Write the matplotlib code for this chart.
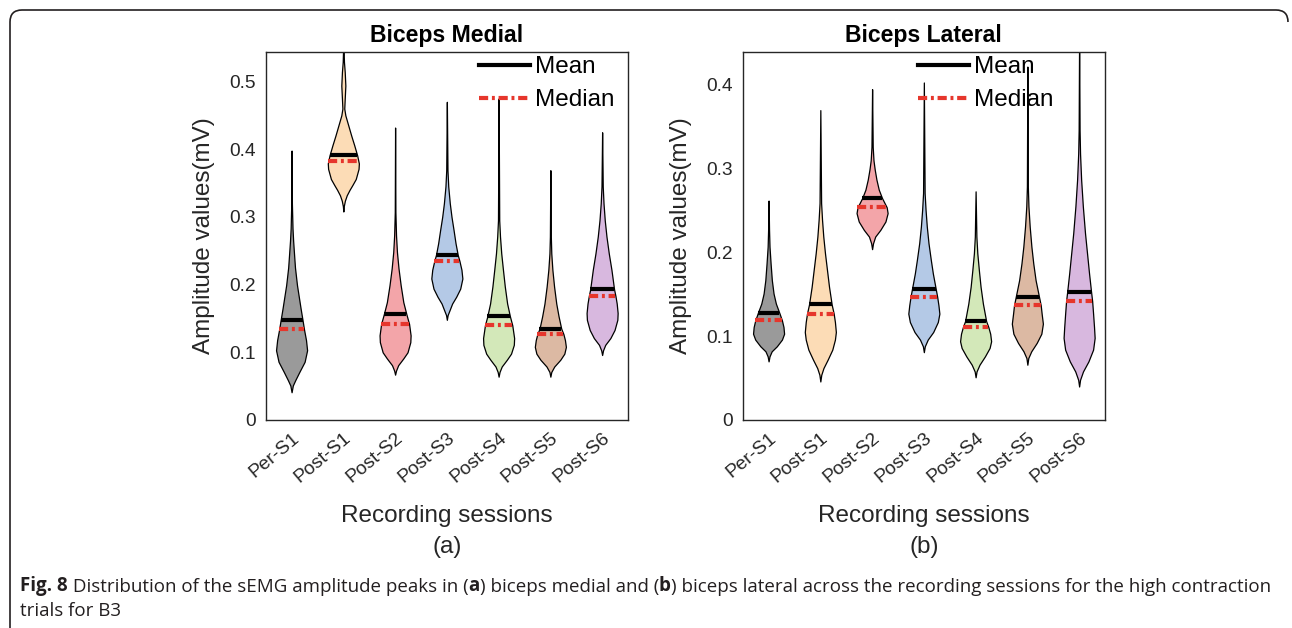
"""Violin plots of sEMG amplitude peaks, biceps medial / lateral."""

import matplotlib

matplotlib.use("Agg")
import matplotlib.pyplot as plt
import numpy as np
from matplotlib.lines import Line2D
from matplotlib.patches import PathPatch
from matplotlib.path import Path
from matplotlib.text import Annotation

sessions = ["Per-S1", "Post-S1", "Post-S2", "Post-S3", "Post-S4", "Post-S5", "Post-S6"]
violin_colors = ["#9a9a9a", "#fcdcb6", "#f3a5a9", "#b4c9e6", "#d3e8b9", "#dcb9a3", "#d8b8df"]

# biceps medial: violin outlines (amplitude, relative half width), mean, median
medial_y = [
    [0.041, 0.051, 0.059, 0.071, 0.086, 0.103, 0.118, 0.134, 0.147, 0.165, 0.199, 0.225, 0.248, 0.265, 0.283, 0.320, 0.398],
    [0.308, 0.316, 0.324, 0.332, 0.340, 0.347, 0.356, 0.371, 0.379, 0.391, 0.406, 0.420, 0.435, 0.450, 0.460, 0.475, 0.494, 0.514, 0.529, 0.560],
    [0.067, 0.073, 0.081, 0.091, 0.100, 0.115, 0.125, 0.142, 0.156, 0.174, 0.199, 0.224, 0.248, 0.273, 0.307, 0.432],
    [0.148, 0.155, 0.162, 0.172, 0.182, 0.194, 0.209, 0.222, 0.235, 0.244, 0.261, 0.281, 0.300, 0.320, 0.345, 0.369, 0.470],
    [0.064, 0.071, 0.079, 0.089, 0.098, 0.111, 0.121, 0.140, 0.153, 0.172, 0.197, 0.222, 0.246, 0.271, 0.295, 0.475],
    [0.064, 0.071, 0.079, 0.089, 0.098, 0.108, 0.118, 0.127, 0.135, 0.153, 0.172, 0.197, 0.222, 0.246, 0.271, 0.369],
    [0.096, 0.103, 0.111, 0.121, 0.133, 0.148, 0.158, 0.172, 0.183, 0.193, 0.222, 0.246, 0.271, 0.295, 0.320, 0.345, 0.425],
]
medial_w = [
    [0.0, 0.08, 0.24, 0.5, 0.84, 1.0, 0.93, 0.8, 0.71, 0.58, 0.35, 0.22, 0.15, 0.1, 0.06, 0.02, 0.0],
    [0.0, 0.03, 0.1, 0.22, 0.4, 0.58, 0.8, 0.98, 1.0, 0.89, 0.7, 0.51, 0.32, 0.13, 0.06, 0.09, 0.13, 0.09, 0.04, 0.0],
    [0.0, 0.06, 0.2, 0.53, 0.8, 0.98, 1.0, 0.9, 0.73, 0.53, 0.36, 0.22, 0.12, 0.06, 0.02, 0.0],
    [0.0, 0.05, 0.17, 0.34, 0.6, 0.86, 1.0, 0.94, 0.81, 0.7, 0.56, 0.43, 0.3, 0.19, 0.09, 0.04, 0.0],
    [0.0, 0.06, 0.2, 0.53, 0.8, 0.98, 1.0, 0.88, 0.73, 0.55, 0.4, 0.28, 0.17, 0.09, 0.04, 0.0],
    [0.0, 0.06, 0.25, 0.64, 0.9, 1.0, 0.94, 0.84, 0.7, 0.53, 0.38, 0.24, 0.13, 0.06, 0.03, 0.0],
    [0.0, 0.06, 0.2, 0.53, 0.8, 0.98, 1.0, 0.94, 0.86, 0.77, 0.6, 0.43, 0.28, 0.17, 0.09, 0.04, 0.0],
]
medial_mean = [0.147, 0.391, 0.156, 0.244, 0.153, 0.135, 0.193]
medial_median = [0.134, 0.383, 0.142, 0.235, 0.140, 0.127, 0.183]

# biceps lateral
lateral_y = [
    [0.070, 0.076, 0.082, 0.088, 0.096, 0.103, 0.111, 0.119, 0.128, 0.139, 0.151, 0.167, 0.187, 0.207, 0.227, 0.262],
    [0.046, 0.054, 0.062, 0.072, 0.084, 0.096, 0.105, 0.117, 0.127, 0.138, 0.159, 0.179, 0.199, 0.219, 0.239, 0.259, 0.370],
    [0.204, 0.211, 0.219, 0.227, 0.237, 0.247, 0.254, 0.265, 0.275, 0.287, 0.299, 0.310, 0.326, 0.395],
    [0.081, 0.088, 0.096, 0.105, 0.117, 0.127, 0.137, 0.147, 0.156, 0.175, 0.191, 0.211, 0.231, 0.251, 0.271, 0.403],
    [0.051, 0.058, 0.066, 0.076, 0.086, 0.094, 0.103, 0.111, 0.118, 0.139, 0.159, 0.179, 0.199, 0.219, 0.273],
    [0.066, 0.074, 0.082, 0.092, 0.103, 0.115, 0.127, 0.137, 0.147, 0.167, 0.187, 0.207, 0.231, 0.255, 0.279, 0.422],
    [0.040, 0.048, 0.058, 0.070, 0.084, 0.098, 0.111, 0.127, 0.142, 0.153, 0.175, 0.199, 0.223, 0.255, 0.287, 0.318, 0.346, 0.460],
]
lateral_w = [
    [0.0, 0.06, 0.2, 0.53, 0.86, 1.0, 0.96, 0.86, 0.69, 0.47, 0.32, 0.21, 0.13, 0.06, 0.03, 0.0],
    [0.0, 0.06, 0.2, 0.47, 0.77, 0.94, 1.0, 0.94, 0.86, 0.73, 0.56, 0.43, 0.3, 0.19, 0.11, 0.05, 0.0],
    [0.0, 0.06, 0.2, 0.53, 0.86, 1.0, 0.94, 0.64, 0.43, 0.28, 0.17, 0.09, 0.04, 0.0],
    [0.0, 0.06, 0.25, 0.6, 0.9, 1.0, 0.94, 0.86, 0.77, 0.58, 0.45, 0.3, 0.19, 0.11, 0.05, 0.0],
    [0.0, 0.06, 0.25, 0.6, 0.9, 1.0, 0.94, 0.82, 0.68, 0.47, 0.32, 0.21, 0.11, 0.05, 0.0],
    [0.0, 0.06, 0.25, 0.6, 0.9, 1.0, 0.92, 0.86, 0.75, 0.53, 0.38, 0.26, 0.15, 0.07, 0.03, 0.0],
    [0.0, 0.06, 0.25, 0.6, 0.9, 1.0, 0.96, 0.9, 0.84, 0.77, 0.64, 0.51, 0.38, 0.24, 0.13, 0.06, 0.03, 0.0],
]
lateral_mean = [0.128, 0.138, 0.265, 0.156, 0.118, 0.147, 0.153]
lateral_median = [0.119, 0.127, 0.254, 0.147, 0.111, 0.137, 0.142]

plt.rcParams["font.family"] = ["Liberation Sans", "DejaVu Sans"]
TXT = "#262626"
RED = "#e6362c"
MED_DASH = (2.2, 0.9, 0.7, 0.9)
W = 1292
H = 628


def draw_panel(ax, ys_list, ws_list, means, medians, title, yticks, ytop, leg_x):
    for i, (ys, ws) in enumerate(zip(ys_list, ws_list)):
        x = i + 1
        ys = np.array(ys)
        half = np.array(ws) * 0.3
        ax.fill_betweenx(ys, x - half, x + half, facecolor=violin_colors[i],
                         edgecolor="black", linewidth=0.9, zorder=2)
        hw = np.interp(means[i], ys, half)
        ax.plot([x - hw, x + hw], [means[i]] * 2, color="black", lw=3,
                solid_capstyle="butt", zorder=3)
        hw = np.interp(medians[i], ys, half)
        ax.plot([x - hw, x + hw], [medians[i]] * 2, color=RED, lw=3,
                dashes=MED_DASH, dash_capstyle="butt", zorder=3)

    ax.set_xlim(0.5, 7.5)
    ax.set_ylim(0, ytop)
    ax.set_xticks(range(1, 8))
    ax.set_xticklabels(sessions, rotation=40, ha="right", va="top",
                       rotation_mode="anchor", fontsize=13.8, color=TXT)
    ax.set_yticks(yticks)
    ax.set_yticklabels(["0"] + [f"{t:.1f}" for t in yticks[1:]], fontsize=13.8, color=TXT)
    ax.tick_params(length=0, pad=7)
    for s in ax.spines.values():
        s.set_color(TXT)
        s.set_linewidth(1.0)
    ax.set_title(title, fontsize=16.6, fontweight="bold", pad=7)
    ax.set_ylabel("Amplitude values(mV)", fontsize=17.5, color=TXT, labelpad=10)

    handles = [
        Line2D([], [], color="black", lw=3),
        Line2D([], [], color=RED, lw=3, dashes=MED_DASH),
    ]
    ax.legend(handles, ["Mean", "Median"], loc="upper left", bbox_to_anchor=(leg_x, 0.988),
              frameon=False, fontsize=17.5, handlelength=2.1, handletextpad=0.2,
              labelspacing=0.45, borderpad=0, borderaxespad=0)


fig = plt.figure(figsize=(W / 100, H / 100), dpi=100)
ax1 = fig.add_axes([265.7 / W, 1 - 420 / H, 362.3 / W, 368 / H])
ax2 = fig.add_axes([742.7 / W, 1 - 420 / H, 362.3 / W, 368 / H])

draw_panel(ax1, medial_y, medial_w, medial_mean, medial_median, "Biceps Medial",
           [0, 0.1, 0.2, 0.3, 0.4, 0.5], 0.5436, 0.589)
draw_panel(ax2, lateral_y, lateral_w, lateral_mean, lateral_median, "Biceps Lateral",
           [0, 0.1, 0.2, 0.3, 0.4], 0.4394, 0.484)

for cx, tag in [(447, "(a)"), (924, "(b)")]:
    fig.text(cx / W, 1 - 516 / H, "Recording sessions", ha="center", va="center",
             fontsize=17.5, color=TXT)
    fig.text(cx / W, 1 - 547 / H, tag, ha="center", va="center", fontsize=17.5, color=TXT)

# caption, chained piece by piece so (a) and (b) can be bold
cap_font = ["Open Sans", "DejaVu Sans"]
cap_size = 13.5
cap_color = "#231f20"
pieces = [
    (" Distribution of the sEMG amplitude peaks in (", "normal"),
    ("a", "bold"),
    (") biceps medial and (", "normal"),
    ("b", "bold"),
    (") biceps lateral across the recording sessions for the high contraction", "normal"),
]
prev = fig.text(20 / W, 1 - 591 / H, "Fig. 8", fontsize=cap_size, fontweight="bold",
                family=cap_font, color=cap_color, va="baseline")
for txt, wt in pieces:
    prev = fig.add_artist(Annotation(
        txt, xy=(1, 0), xycoords=prev, va="bottom", ha="left",
        fontsize=cap_size, fontweight=wt, family=cap_font, color=cap_color))
fig.text(20 / W, 1 - 616 / H, "trials for B3", fontsize=cap_size, family=cap_font,
         color=cap_color, va="baseline")

# rounded frame, open on the right and bottom
pts = [(1288, 22), (1288, 10), (1276, 10), (22, 10), (10, 10), (10, 22), (10, 628)]
codes = [Path.MOVETO, Path.CURVE3, Path.CURVE3, Path.LINETO, Path.CURVE3, Path.CURVE3, Path.LINETO]
frame = Path([(x / W, 1 - y / H) for x, y in pts], codes)
fig.add_artist(PathPatch(frame, transform=fig.transFigure, fill=False,
                         edgecolor=cap_color, lw=1.2))

fig.savefig("out.png", dpi=100)
